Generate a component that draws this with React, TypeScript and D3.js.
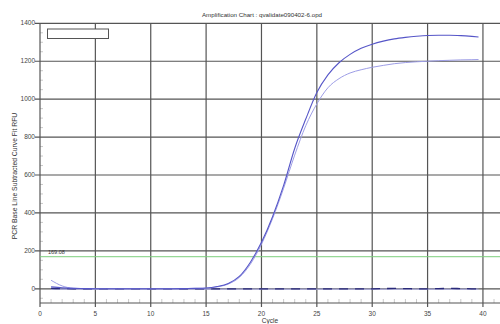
import React from "react";
import * as d3 from "d3";

const W = 500;
const H = 324;

const title = "Amplification Chart : qvalidate090402-6.opd";
const xLabel = "Cycle";
const yLabel = "PCR Base Line Subtracted Curve Fit RFU";
const xTicks = [0, 5, 10, 15, 20, 25, 30, 35, 40];
const yTicks = [0, 200, 400, 600, 800, 1000, 1200, 1400];
const threshold = 169.08;

const cycles = [1, 2, 3, 4, 5, 6, 7, 8, 9, 10, 11, 12, 13, 14, 15, 16, 17, 18, 19, 20, 21, 22, 23, 24, 25, 26, 27, 28, 29, 30, 31, 32, 33, 34, 35, 36, 37, 38, 39, 39.6];
const sampleA = [10, 5, 2, 1, 0, 0, 0, 0, 0, 0, 0, 0, 1, 2, 4, 12, 28, 65, 140, 245, 380, 545, 740, 895, 1035, 1128, 1192, 1236, 1268, 1290, 1306, 1318, 1326, 1332, 1336, 1337, 1337, 1335, 1331, 1328];
const sampleB = [45, 15, 3, 1, 0, 0, 0, 0, 0, 0, 0, 0, 1, 2, 3, 10, 25, 60, 130, 235, 370, 530, 705, 860, 975, 1060, 1108, 1138, 1155, 1168, 1178, 1187, 1193, 1197, 1200, 1203, 1205, 1207, 1208, 1209];
const negA = [2, 1, 0, 0, -1, -1, 0, 0, 0, 0, 0, 0, -1, -1, -1, 0, 0, 0, 0, 0, -1, -1, 0, 0, 0, 0, 0, 0, 0, 0, 1, 2, 1, 0, 0, 1, 2, 1, 0, 0];
const negB = [-2, -2, -2, -2, -2, -2, -2, -2, -2, -2, -2, -2, -2, -2, -2, -2, -2, -2, -2, -2, -2, -2, -2, -2, -2, -2, -2, -2, -2, -2, -2, -2, -2, -2, -2, -2, -2, -2, -2, -2];

export default function App() {
  const x = d3.scaleLinear().domain([0, 41.54]).range([40, 500]);
  const y = d3.scaleLinear().domain([-75, 1400]).range([303, 23.3]);

  const line = (vals: number[]) =>
    d3
      .line<number>()
      .x((_, i) => x(cycles[i]))
      .y((v) => y(v))
      .curve(d3.curveMonotoneX)(vals) || "";

  const minorY = d3.range(-50, 1401, 50).filter((v) => v % 200 !== 0);
  const minorX = d3.range(1, 42, 1).filter((v) => v % 5 !== 0);
  const gridColor = "#555";
  const font = "Liberation Sans, Arial, sans-serif";

  return (
    <svg width={W} height={H} style={{ position: "absolute", left: 0, top: 0, background: "#fff" }} fontFamily={font}>
      <rect x={0} y={0} width={W} height={H} fill="#fff" />
      <text x={262} y={17} fontSize={6.2} textAnchor="middle" fill="#333">{title}</text>

      {/* minor ticks */}
      {minorY.map((v) => (
        <line key={"my" + v} x1={40} x2={43} y1={y(v)} y2={y(v)} stroke="#bbb" strokeWidth={0.8} />
      ))}
      {minorX.map((v) => (
        <line key={"mx" + v} x1={x(v)} x2={x(v)} y1={303} y2={299} stroke="#bbb" strokeWidth={0.8} />
      ))}

      {/* grid */}
      {yTicks.map((v) => (
        <line key={"gy" + v} x1={35} x2={500} y1={y(v)} y2={y(v)} stroke={gridColor} strokeWidth={1.2} />
      ))}
      {xTicks.map((v) => (
        <line key={"gx" + v} x1={x(v)} x2={x(v)} y1={23.3} y2={307} stroke={gridColor} strokeWidth={1.2} />
      ))}
      <line x1={40} x2={500} y1={303} y2={303} stroke={gridColor} strokeWidth={1.2} />

      {/* tick labels */}
      {yTicks.map((v) => (
        <text key={"ly" + v} x={35} y={y(v) + 2} fontSize={6.5} textAnchor="end" fill="#444">{v}</text>
      ))}
      {xTicks.map((v) => (
        <text key={"lx" + v} x={x(v)} y={316} fontSize={6.5} textAnchor="middle" fill="#444">{v}</text>
      ))}

      {/* threshold */}
      <line x1={40} x2={500} y1={y(threshold)} y2={y(threshold)} stroke="#7ccf7c" strokeWidth={1} />
      <text x={48} y={y(threshold) - 2.5} fontSize={5.5} fill="#333">{threshold.toFixed(2)}</text>

      {/* curves */}
      <path d={line(negB)} fill="none" stroke="#a9a9e6" strokeWidth={1} />
      <path d={line(negA)} fill="none" stroke="#2a2a7a" strokeWidth={1.3} strokeDasharray="9,7" />
      <path d={line(sampleB)} fill="none" stroke="#9d9de6" strokeWidth={1} />
      <path d={line(sampleA)} fill="none" stroke="#5656c8" strokeWidth={1.1} />

      {/* legend box */}
      <rect x={47.5} y={29} width={61} height={9.5} fill="#fff" stroke="#555" strokeWidth={1} />

      {/* axis labels */}
      <text transform={`translate(17,176) rotate(-90)`} fontSize={6.8} textAnchor="middle" fill="#333">{yLabel}</text>
      <text x={270} y={323} fontSize={6.5} textAnchor="middle" fill="#333">{xLabel}</text>
    </svg>
  );
}
